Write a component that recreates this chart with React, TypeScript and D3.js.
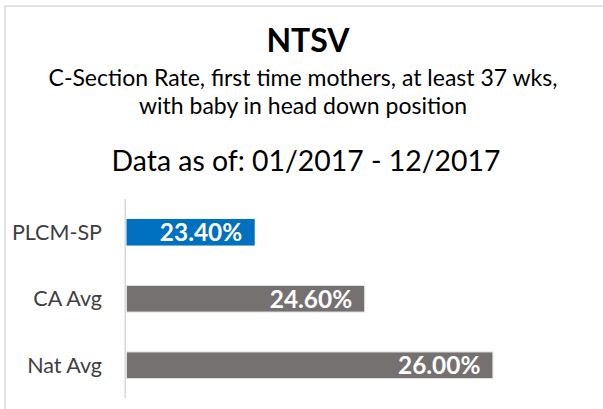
import React from "react";
import * as d3 from "d3";

const categories = ["PLCM-SP", "CA Avg", "Nat Avg"];
const values = [23.4, 24.6, 26.0];
const barColors = ["#0070C0", "#767171", "#767171"];
const valueLabels = ["23.40%", "24.60%", "26.00%"];
const xDomain = [22, 27];

const title = "NTSV";
const subtitle1 = "C-Section Rate, first time mothers, at least 37 wks,";
const subtitle2 = "with baby in head down position";
const subtitle3 = "Data as of: 01/2017 - 12/2017";

const FONT = "Lato, 'Open Sans', sans-serif";

export default function App() {
  const W = 603;
  const H = 409;
  const x = d3.scaleLinear().domain(xDomain).range([126.5, 584.5]);
  const y = d3
    .scaleBand<string>()
    .domain(categories)
    .range([199, 398.5])
    .paddingInner(0.6)
    .paddingOuter(0.3);

  return (
    <svg
      width={W}
      height={H}
      style={{ position: "absolute", left: 0, top: 0, background: "#fff" }}
      fontFamily={FONT}
    >
      <rect x={0} y={0} width={W} height={H} fill="#fff" />
      <rect x={5} y={6} width={W + 20} height={H + 20} fill="none" stroke="#d9d9d9" strokeWidth={1.5} />
      <text x={308} y={52} textAnchor="middle" fontSize={32} fontWeight={700} fill="#000">
        {title}
      </text>
      <text x={303} y={86} textAnchor="middle" fontSize={23} fill="#000">
        {subtitle1}
      </text>
      <text x={303} y={114} textAnchor="middle" fontSize={23} fill="#000">
        {subtitle2}
      </text>
      <text x={306} y={171} textAnchor="middle" fontSize={28.4} fill="#000">
        {subtitle3}
      </text>
      {categories.map((c, i) => {
        const yy = y(c)!;
        const bw = y.bandwidth();
        return (
          <g key={c}>
            <rect
              x={x(xDomain[0])}
              y={yy}
              width={x(values[i]) - x(xDomain[0])}
              height={bw}
              fill={barColors[i]}
              stroke={i === 0 ? "none" : "#e3e3e3"}
              strokeWidth={1}
            />
            <text
              x={x(values[i]) - 12.5}
              y={yy + bw / 2}
              dy="0.36em"
              textAnchor="end"
              fontSize={24.4}
              fontWeight={700}
              fill="#fff"
            >
              {valueLabels[i]}
            </text>
            <text
              x={102}
              y={yy + bw / 2}
              dy="0.36em"
              textAnchor="end"
              fontSize={21.5}
              fill="#404040"
            >
              {c}
            </text>
          </g>
        );
      })}
      <line x1={125.2} x2={125.2} y1={199} y2={398} stroke="#d9d9d9" strokeWidth={1.5} />
    </svg>
  );
}
